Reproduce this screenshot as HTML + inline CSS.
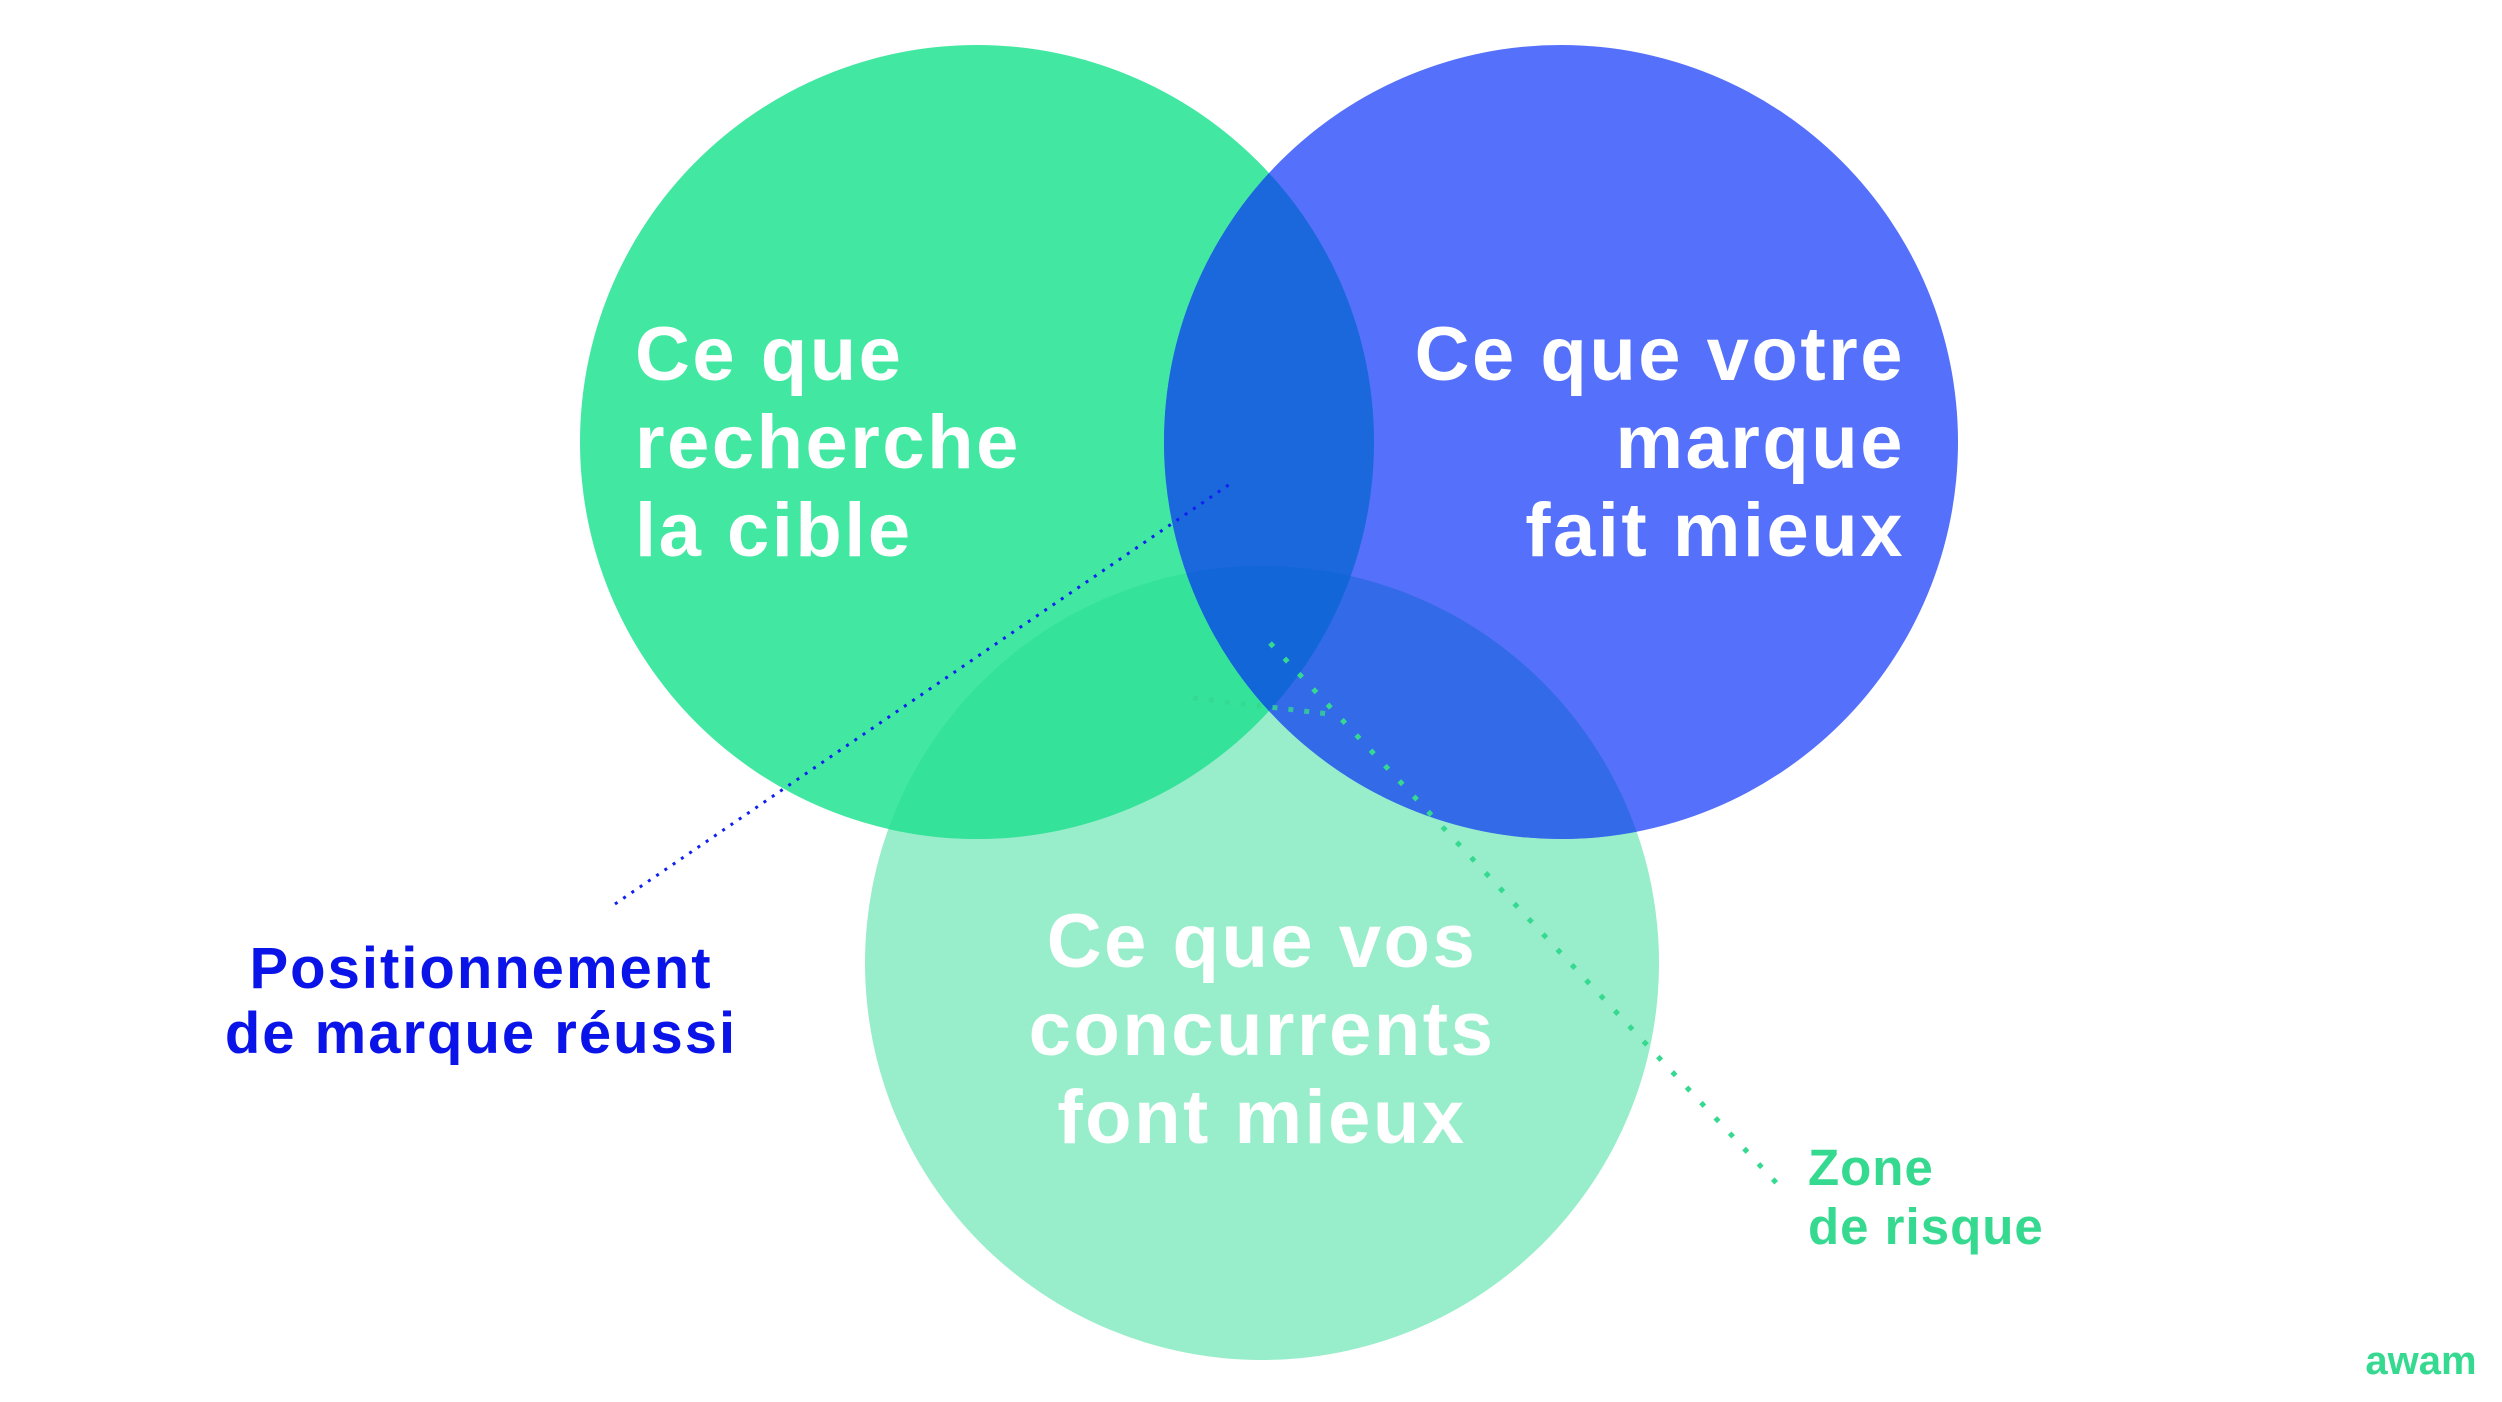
<!DOCTYPE html>
<html><head><meta charset="utf-8"><style>
html,body{margin:0;padding:0;background:#fff}
svg{display:block}
</style></head><body>
<svg width="2502" height="1402" viewBox="0 0 2502 1402" xmlns="http://www.w3.org/2000/svg">
<defs>
<clipPath id="c1"><circle cx="977" cy="442" r="397"/></clipPath>
<clipPath id="c3"><circle cx="1262" cy="963" r="397"/></clipPath>
</defs>
<circle cx="1262" cy="963" r="397" fill="#98EDCB"/>
<circle cx="977" cy="442" r="397" fill="#42E8A2"/>
<circle cx="977" cy="442" r="397" fill="#35E29A" clip-path="url(#c3)"/>
<circle cx="1561" cy="442" r="397" fill="#5570FA"/>
<circle cx="1561" cy="442" r="397" fill="#336AE8" clip-path="url(#c3)"/>
<circle cx="1561" cy="442" r="397" fill="#1A68DC" clip-path="url(#c1)"/>
<g clip-path="url(#c3)"><circle cx="1561" cy="442" r="397" fill="#1366D8" clip-path="url(#c1)"/></g>

<line x1="615" y1="904" x2="1230" y2="484" stroke="#1020F0" stroke-width="3" stroke-dasharray="3 7"/>
<line x1="1270" y1="643" x2="1783" y2="1190" stroke="#35D98F" stroke-width="5" stroke-dasharray="5 16"/>
<line x1="1193" y1="698" x2="1329" y2="714" stroke="#35D98F" stroke-width="5" stroke-dasharray="5 11" opacity="0.8"/>

<g font-family="Liberation Sans, sans-serif" font-weight="bold" fill="#fff" font-size="76" letter-spacing="2.5">
<text x="635" y="380">Ce que</text>
<text x="635" y="468">recherche</text>
<text x="635" y="556">la cible</text>
<text x="1905" y="380" text-anchor="end">Ce que votre</text>
<text x="1905" y="468" text-anchor="end">marque</text>
<text x="1905" y="556" text-anchor="end">fait mieux</text>
<text x="1262" y="967" text-anchor="middle">Ce que vos</text>
<text x="1262" y="1055" text-anchor="middle">concurrents</text>
<text x="1262" y="1143" text-anchor="middle">font mieux</text>
</g>
<g font-family="Liberation Sans, sans-serif" font-weight="bold" font-size="58" letter-spacing="2" fill="#0A14E8" text-anchor="middle">
<text x="481" y="988">Positionnement</text>
<text x="481" y="1053">de marque réussi</text>
</g>
<g font-family="Liberation Sans, sans-serif" font-weight="bold" font-size="51" letter-spacing="1" fill="#35D98F">
<text x="1808" y="1185">Zone</text>
<text x="1808" y="1244">de risque</text>
</g>
<text x="2421" y="1374" text-anchor="middle" font-family="Liberation Sans, sans-serif" font-weight="bold" font-size="40" fill="#35D98F">awam</text>
</svg>
</body></html>
